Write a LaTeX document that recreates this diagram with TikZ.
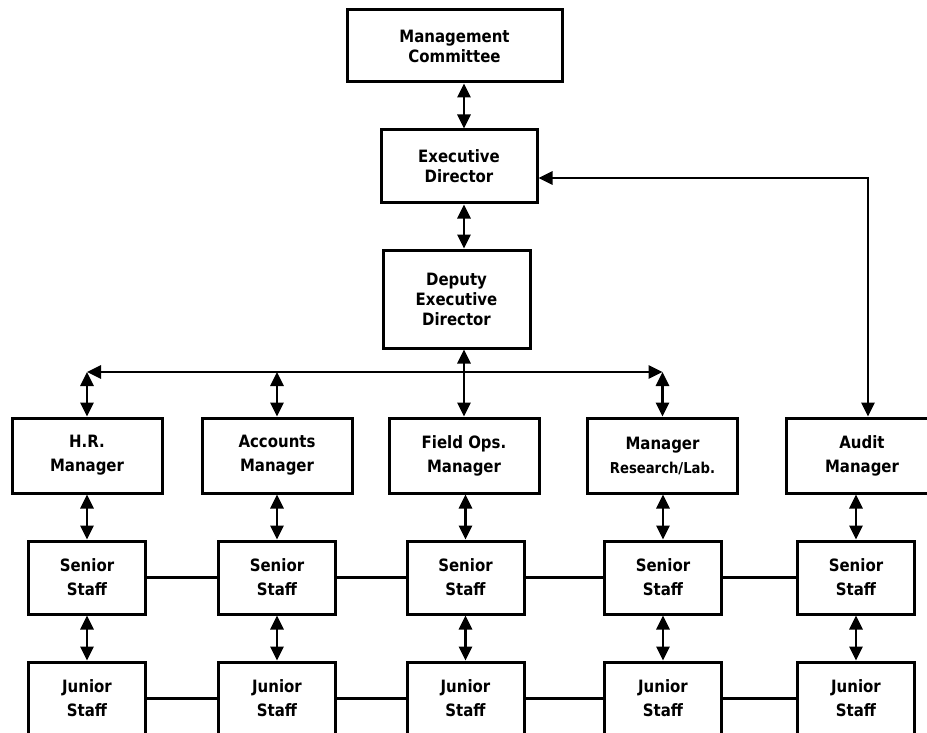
\documentclass[tikz,border=0pt]{standalone}
\usepackage{fontspec}
\newfontfamily\chartfont{DejaVu Sans Bold}[FakeStretch=0.88]
\usetikzlibrary{arrows.meta,positioning}

\begin{document}
\begin{tikzpicture}[x=1pt, y=-1pt,
        every node/.style={draw, rectangle, line width=3pt, align=center, inner sep=0pt,
            font=\chartfont\fontsize{17}{24}\selectfont},
        top/.style={font=\chartfont\fontsize{17}{20}\selectfont},
        mgr/.style={minimum width=150pt, minimum height=75pt},
        staff/.style={minimum width=117pt, minimum height=73pt},
        link/.style={line width=2.8pt, {Triangle[length=14pt,width=13pt]}-{Triangle[length=14pt,width=13pt]}},
        tie/.style={line width=2.8pt}]
    \useasboundingbox (0,0) rectangle (927,733);
    \clip (0,0) rectangle (927,733);

    % top of the chart
    \node[top, minimum width=215pt, minimum height=72pt] (mc) at (454.5,46) {Management\\Committee};
    \node[top, minimum width=156pt, minimum height=73pt] (ed) at (459,166.5) {Executive\\Director};
    \node[top, minimum width=147pt, minimum height=98pt] (dep) at (456.5,299) {Deputy\\Executive\\Director};

    % managers
    \node[mgr] (hr-m) at (87,455.5) {H.R.\\Manager};
    \node[mgr] (ac-m) at (277,455.5) {Accounts\\Manager};
    \node[mgr] (fo-m) at (464,455.5) {Field Ops.\\Manager};
    \node[mgr] (rl-m) at (662.5,455.5) {Manager\\{\fontsize{15}{21}\selectfont Research/Lab.}};
    \node[mgr, minimum width=152pt] (au-m) at (862,455.5) {Audit\\Manager};

    % staff under each manager
    \foreach \n/\x in {hr/87, ac/277, fo/465.5, rl/663, au/856} {
        \node[staff] (\n-s) at (\x,577.5) {Senior\\Staff};
        \node[staff] (\n-j) at (\x,698.5) {Junior\\Staff};
        \draw[link] (\n-m.south -| \n-s) -- (\n-s.north);
        \draw[link] (\n-s) -- (\n-j);
    }
    \foreach \a/\b in {hr/ac, ac/fo, fo/rl, rl/au} {
        \draw[tie] (\a-s) -- (\b-s);
        \draw[tie] (\a-j) -- (\b-j);
    }

    % spine and bus
    \coordinate (busl) at (87,372);
    \coordinate (busr) at (662.5,372);
    \draw[link] (mc.south -| fo-m) -- (ed.north -| fo-m);
    \draw[link] (ed.south -| fo-m) -- (dep.north -| fo-m);
    \draw[link] (dep.south -| fo-m) -- (fo-m.north);
    \draw[link] (busl) -- (busr);
    \draw[link] (busl) -- (hr-m.north);
    \draw[link] (ac-m.north |- busl) -- (ac-m.north);
    \draw[link] (busr) -- (rl-m.north);
    \draw[link] ([yshift=-11.5pt]ed.east) -| ([xshift=6pt]au-m.north);
\end{tikzpicture}
\end{document}
